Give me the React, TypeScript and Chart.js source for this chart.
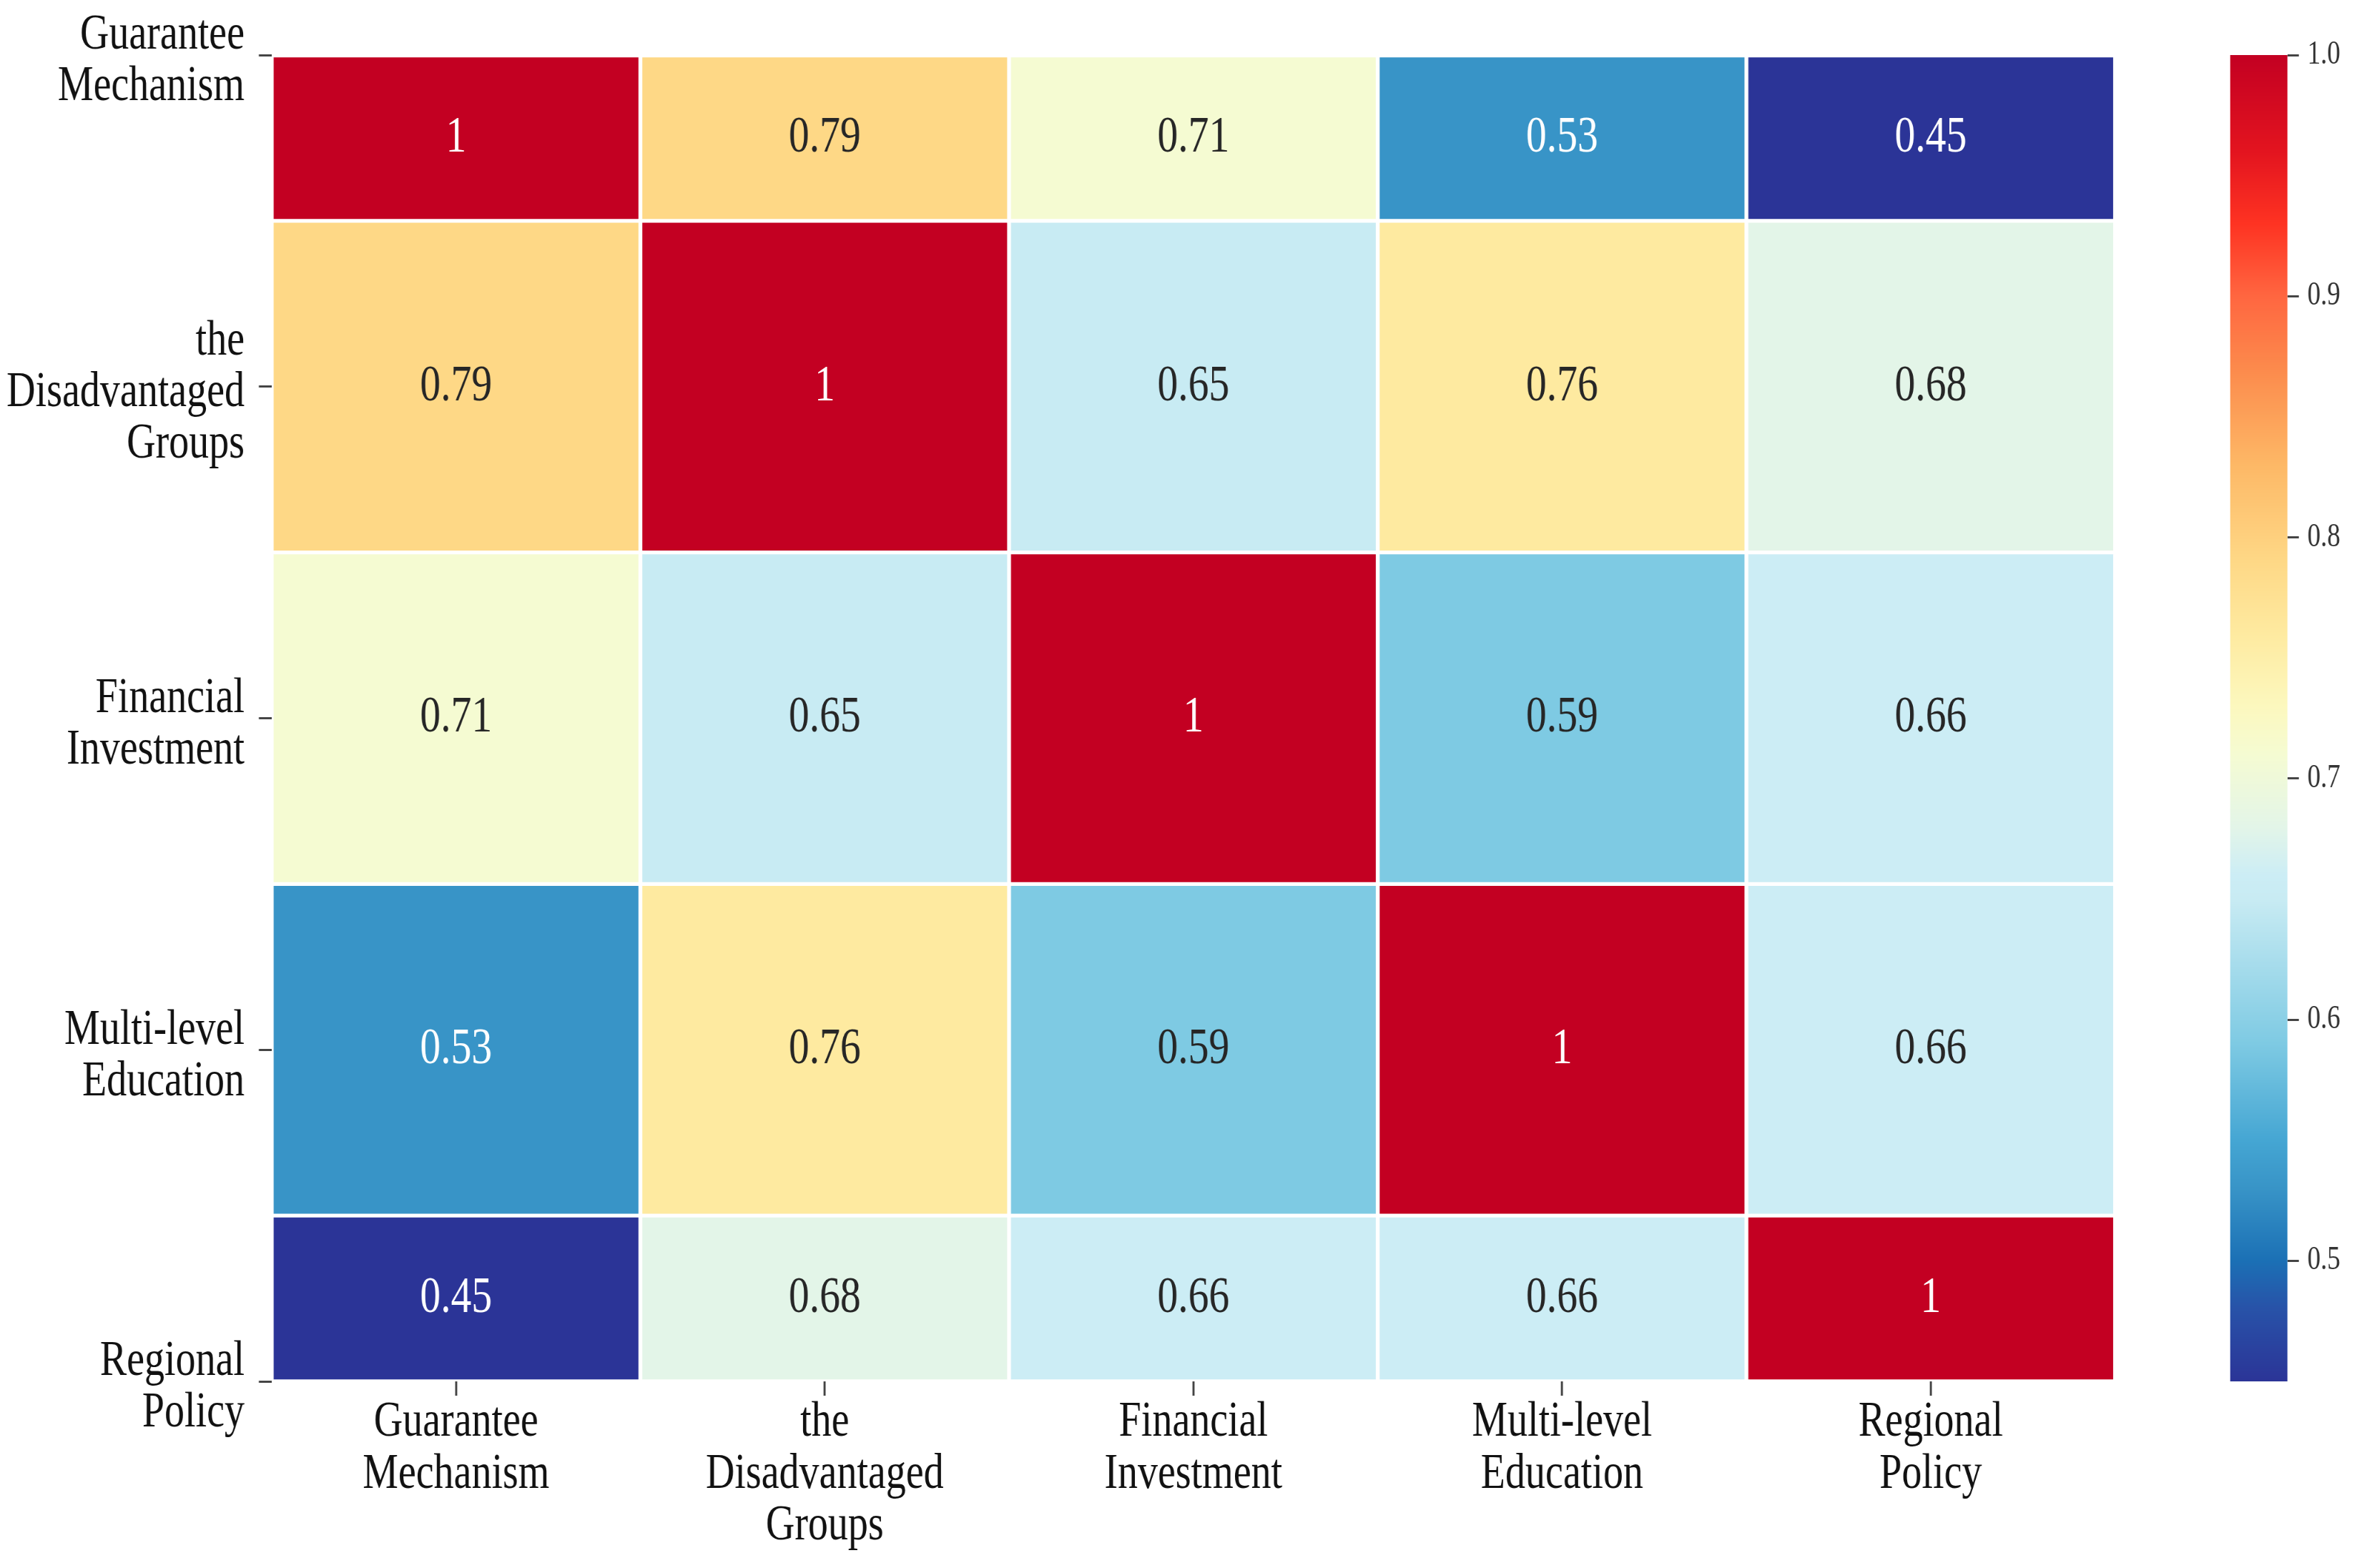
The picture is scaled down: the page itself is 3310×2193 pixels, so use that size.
import { useEffect, useRef } from 'react';
import { Chart, registerables } from 'chart.js';

Chart.register(...registerables);

const FONT = "'Liberation Serif', 'Times New Roman', serif";

// Categories (rows and columns share the same labels)
const categories: string[][] = [
  ['Guarantee', 'Mechanism'],
  ['the', 'Disadvantaged', 'Groups'],
  ['Financial', 'Investment'],
  ['Multi-level', 'Education'],
  ['Regional', 'Policy'],
];

// Correlation rows
const rowGuarantee = [1, 0.79, 0.71, 0.53, 0.45];
const rowDisadvantaged = [0.79, 1, 0.65, 0.76, 0.68];
const rowFinancial = [0.71, 0.65, 1, 0.59, 0.66];
const rowEducation = [0.53, 0.76, 0.59, 1, 0.66];
const rowRegional = [0.45, 0.68, 0.66, 0.66, 1];
const matrix = [rowGuarantee, rowDisadvantaged, rowFinancial, rowEducation, rowRegional];

// Colour bar
const colorbarTicks = [0.5, 0.6, 0.7, 0.8, 0.9, 1.0];
const vMin = 0.45;
const vMax = 1.0;

// Colour map stops (value, colour)
const cmapStops: [number, string][] = [
  [0.45, '#2b3497'],
  [0.48, '#2852a8'],
  [0.5, '#1b70b5'],
  [0.53, '#3894c7'],
  [0.55, '#45a6d3'],
  [0.59, '#7ecae3'],
  [0.65, '#c8ebf3'],
  [0.66, '#ccedf5'],
  [0.68, '#e3f5e8'],
  [0.71, '#f5fbd2'],
  [0.73, '#fcf8be'],
  [0.76, '#feeaa0'],
  [0.79, '#fed886'],
  [0.83, '#fdb866'],
  [0.87, '#fc8a4c'],
  [0.9, '#ff6640'],
  [0.93, '#fe3322'],
  [0.96, '#e3141f'],
  [1.0, '#c30022'],
];

// Horizontal condensing of the canvas (the reference text is narrow and tall)
const SX = 0.8;
const W = 3310;
const H = 2193;
const WI = Math.round(W / SX);
const px = (v: number) => v / SX; // screen px (horizontal) -> internal px

function hexToRgb(h: string): number[] {
  const n = parseInt(h.slice(1), 16);
  return [(n >> 16) & 255, (n >> 8) & 255, n & 255];
}

function colorRgb(v: number): number[] {
  const x = Math.min(vMax, Math.max(vMin, v));
  for (let k = 0; k < cmapStops.length - 1; k++) {
    const [a, ca] = cmapStops[k];
    const [b, cb] = cmapStops[k + 1];
    if (x >= a && x <= b) {
      const t = b === a ? 0 : (x - a) / (b - a);
      const A = hexToRgb(ca);
      const B = hexToRgb(cb);
      return A.map((c, i) => Math.round(c + (B[i] - c) * t));
    }
  }
  return hexToRgb(cmapStops[cmapStops.length - 1][1]);
}

function colorFor(v: number): string {
  const [r, g, b] = colorRgb(v);
  return `rgb(${r},${g},${b})`;
}

function textColor(v: number): string {
  const lin = (c: number) => {
    const s = c / 255;
    return s <= 0.03928 ? s / 12.92 : Math.pow((s + 0.055) / 1.055, 2.4);
  };
  const [r, g, b] = colorRgb(v);
  const lum = 0.2126 * lin(r) + 0.7152 * lin(g) + 0.0722 * lin(b);
  return lum > 0.408 ? '#262626' : '#ffffff';
}

const annotatePlugin = {
  id: 'annotate',
  afterDatasetsDraw(chart: any) {
    const ctx = chart.ctx;
    ctx.save();
    ctx.font = `72px ${FONT}`;
    ctx.textAlign = 'center';
    ctx.textBaseline = 'middle';
    matrix.forEach((row, i) => {
      const meta = chart.getDatasetMeta(i);
      row.forEach((v, j) => {
        const el = meta.data[j];
        if (!el) return;
        const { x, y, base } = el.getProps(['x', 'y', 'base'], true);
        ctx.fillStyle = textColor(v);
        ctx.fillText(String(v), x, (y + base) / 2);
      });
    });
    ctx.restore();
  },
};

const colorbarPlugin = {
  id: 'colorbar',
  afterDraw(chart: any) {
    const s = chart.scales.cb;
    if (!s) return;
    const ctx = chart.ctx;
    const x1 = s.left;
    const x0 = x1 - px(80);
    const top = s.getPixelForValue(vMax);
    const bottom = s.getPixelForValue(vMin);
    ctx.save();
    for (let py = Math.floor(top); py < Math.ceil(bottom); py++) {
      const v = s.getValueForPixel(py + 0.5);
      ctx.fillStyle = colorFor(v);
      ctx.fillRect(x0, py, x1 - x0, 1);
    }
    ctx.restore();
  },
};

export default function App() {
  const ref = useRef<HTMLCanvasElement | null>(null);

  useEffect(() => {
    document.body.style.margin = '0';
    document.body.style.overflow = 'hidden';
    const canvas = ref.current;
    if (!canvas) return;
    const lastRow = matrix.length - 1;

    const datasets = matrix.map((row, i) => ({
      label: categories[i].join(' '),
      data: row.map(() => [Math.max(0, i - 0.5), Math.min(lastRow, i + 0.5)]),
      backgroundColor: row.map((v) => colorFor(v)),
      borderColor: '#ffffff',
      borderWidth: { top: 3, bottom: 3, left: px(3), right: px(3) },
      borderSkipped: false as const,
      grouped: false,
      barPercentage: 1,
      categoryPercentage: 1,
      xAxisID: 'x',
      yAxisID: 'y',
    }));

    const tickFont = { family: FONT, size: 70, lineHeight: 1.03 };

    const chart = new Chart(canvas, {
      type: 'bar',
      data: { labels: categories as any, datasets: datasets as any },
      plugins: [annotatePlugin, colorbarPlugin],
      options: {
        animation: false,
        responsive: false,
        devicePixelRatio: 1,
        events: [],
        layout: { padding: { top: 77, left: 0, right: 0, bottom: 0 } },
        plugins: {
          legend: { display: false },
          tooltip: { enabled: false },
        },
        scales: {
          x: {
            type: 'category',
            position: 'bottom',
            offset: true,
            grid: {
              display: true,
              offset: false,
              drawOnChartArea: false,
              drawTicks: true,
              tickLength: 20,
              tickWidth: px(3),
              tickColor: '#444444',
            },
            border: { display: false },
            ticks: {
              color: '#111111',
              font: tickFont,
              padding: 2,
              maxRotation: 0,
              minRotation: 0,
              autoSkip: false,
            },
            afterFit(s: any) {
              s.height = H - 1932;
              s.paddingLeft = 0;
              s.paddingRight = 0;
            },
          },
          y: {
            type: 'linear',
            position: 'left',
            min: 0,
            max: lastRow,
            reverse: true,
            afterBuildTicks(s: any) {
              s.ticks = categories.map((_, i) => ({ value: i }));
            },
            grid: {
              display: true,
              drawOnChartArea: false,
              drawTicks: true,
              tickLength: px(18),
              tickWidth: 3,
              tickColor: '#444444',
            },
            border: { display: false },
            ticks: {
              color: '#111111',
              font: tickFont,
              padding: px(20),
              labelOffset: 9,
              autoSkip: false,
              callback: (v: any) => categories[Math.round(Number(v))] as any,
            },
            afterFit(s: any) {
              s.width = px(380);
              s.paddingTop = 0;
              s.paddingBottom = 0;
            },
          },
          pad: {
            type: 'linear',
            position: 'right',
            weight: 0,
            display: true,
            grid: { display: false },
            border: { display: false },
            ticks: { display: false },
            afterFit(s: any) {
              s.width = px(3199 - 2958);
              s.paddingTop = 0;
              s.paddingBottom = 0;
            },
          },
          cb: {
            type: 'linear',
            position: 'right',
            weight: 1,
            min: vMin,
            max: vMax,
            afterBuildTicks(s: any) {
              s.ticks = colorbarTicks.map((v) => ({ value: v }));
            },
            grid: {
              display: true,
              drawOnChartArea: false,
              drawTicks: true,
              tickLength: px(16),
              tickWidth: 3,
              tickColor: '#444444',
            },
            border: { display: false },
            ticks: {
              color: '#333333',
              font: { family: FONT, size: 46 },
              padding: px(12),
              callback: (v: any) => Number(v).toFixed(1),
            },
            afterFit(s: any) {
              s.width = WI - px(3199);
              s.paddingTop = 0;
              s.paddingBottom = 0;
            },
          },
        },
      } as any,
    });

    return () => {
      chart.destroy();
    };
  }, []);

  return (
    <canvas
      ref={ref}
      width={WI}
      height={H}
      style={{ display: 'block', width: `${W}px`, height: `${H}px` }}
    />
  );
}
